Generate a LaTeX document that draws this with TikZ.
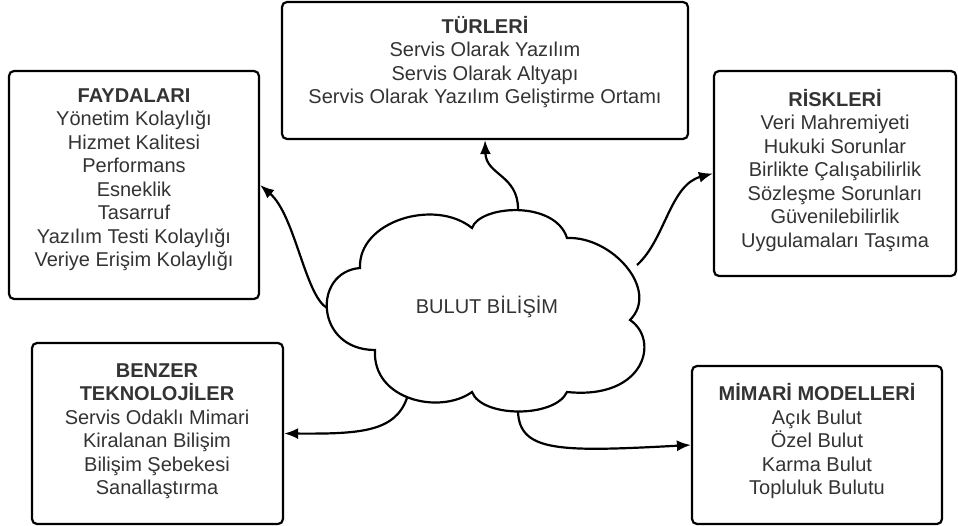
\documentclass[tikz,border=0pt]{standalone}
\usepackage{fontspec}
\setmainfont{Liberation Sans}
\usetikzlibrary{arrows.meta}
\definecolor{textgrey}{HTML}{333333}
\begin{document}
\begin{tikzpicture}[x=1pt,y=-1pt,
  box/.style={draw, line width=2.2pt, rounded corners=5pt, inner sep=0pt},
  txt/.style={align=center, text=textgrey, font=\fontsize{20}{23.5}\selectfont, inner sep=0pt},
  conn/.style={line width=2.2pt, -{Latex[length=14pt,width=11pt]}},
]
\useasboundingbox[fill=white] (0,0) rectangle (958,526);

% topic boxes
\node[box, minimum width=250pt, minimum height=228pt] (fay) at (134,185) {};
\node[box, minimum width=406pt, minimum height=137pt] (tur) at (485,70.5) {};
\node[box, minimum width=242pt, minimum height=205pt] (risk) at (835,173.5) {};
\node[box, minimum width=251pt, minimum height=181pt] (benz) at (157.5,433.5) {};
\node[box, minimum width=250pt, minimum height=158pt] (mim) at (817,445) {};

% box texts
\node[txt] (fay-t) at (134,179.5) {\textbf{FAYDALARI}\\Yönetim Kolaylığı\\Hizmet Kalitesi\\Performans\\Esneklik\\Tasarruf\\Yazılım Testi Kolaylığı\\Veriye Erişim Kolaylığı};
\node[txt] (tur-t) at (485,62) {\textbf{TÜRLERİ}\\Servis Olarak Yazılım\\Servis Olarak Altyapı\\Servis Olarak Yazılım Geliştirme Ortamı};
\node[txt] (risk-t) at (835,170.5) {\textbf{RİSKLERİ}\\Veri Mahremiyeti\\Hukuki Sorunlar\\Birlikte Çalışabilirlik\\Sözleşme Sorunları\\Güvenilebilirlik\\Uygulamaları Taşıma};
\node[txt] (benz-t) at (157,431) {\textbf{BENZER}\\\textbf{TEKNOLOJİLER}\\Servis Odaklı Mimari\\Kiralanan Bilişim\\Bilişim Şebekesi\\Sanallaştırma};
\node[txt] (mim-t) at (817,441.5) {\textbf{MİMARİ MODELLERİ}\\Açık Bulut\\Özel Bulut\\Karma Bulut\\Topluluk Bulutu};

% cloud outline
\draw[line width=2.2pt, line join=miter]
  (360,268) .. controls (358,221) and (435,198) .. (472,228)
  .. controls (480,205) and (555,200) .. (567,238)
  .. controls (612,236) and (660,290) .. (630,320)
  .. controls (660,340) and (645,400) .. (567,392)
  .. controls (555,418) and (482,418) .. (472,392)
  .. controls (440,415) and (372,400) .. (375,350)
  .. controls (315,350) and (312,272) .. cycle;
\node[txt] (cloud) at (487,307) {BULUT BİLİŞİM};

% connector start points on the cloud
\coordinate (c-top) at (518,209);
\coordinate (c-left) at (327,308);
\coordinate (c-right) at (637,265);
\coordinate (c-bl) at (407,398);
\coordinate (c-bot) at (518,412);

% connectors
\draw[conn] (c-top) .. controls (518,175) and (486,175) .. (tur.south);
\draw[conn] (c-left) .. controls (305,295) and (295,215) .. (fay.east);
\draw[conn] (c-right) .. controls (665,240) and (670,185) .. (risk.west);
\draw[conn] (c-bl) .. controls (395,432) and (360,434) .. (benz.east);
\draw[conn] (c-bot) .. controls (520,452) and (560,452) .. (mim.west);
\end{tikzpicture}
\end{document}
